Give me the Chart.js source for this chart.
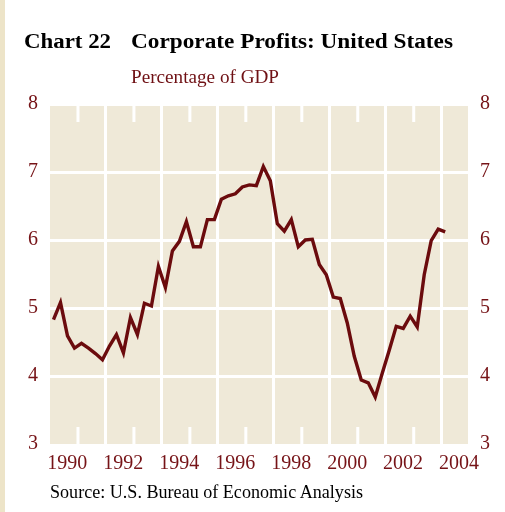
<!DOCTYPE html>
<html><head><meta charset="utf-8">
<script src="https://cdn.jsdelivr.net/npm/chart.js@4.4.1/dist/chart.umd.min.js"></script>
<style>
html,body{margin:0;padding:0;background:#fff;width:505px;height:512px;overflow:hidden;}
#wrap{position:relative;width:505px;height:512px;}
#strip{position:absolute;left:0;top:0;width:5px;height:512px;background:#ede4c8;}
canvas{position:absolute;left:0;top:0;}
.t{position:absolute;white-space:nowrap;line-height:1;font-family:"Liberation Serif",serif;transform-origin:0 0;}
#t1,#t2{font-size:20px;font-weight:bold;color:#000;top:31px;}
#t1{left:24px}
#t2{left:131px}
#sub{font-size:19px;color:#6f1014;left:131px;top:67px;}
#src{font-size:18px;color:#000;left:50px;top:483px;}
</style>
</head><body>
<div id="wrap">
<div id="strip"></div>
<canvas id="c" width="505" height="512"></canvas>
<div class="t" id="t1" data-w="87">Chart 22</div>
<div class="t" id="t2" data-w="322">Corporate Profits: United States</div>
<div class="t" id="sub" data-w="148">Percentage of GDP</div>
<div class="t" id="src" data-w="313">Source: U.S. Bureau of Economic Analysis</div>
</div>
<script>
// Quarterly data, starting 1990 Q1
const startYear = 1990;
const profitShare = [
  4.83, 5.08, 4.59, 4.41, 4.48, 4.41, 4.33, 4.24, 4.44, 4.61,
  4.34, 4.86, 4.61, 5.07, 5.03, 5.61, 5.30, 5.84, 5.98, 6.27,
  5.90, 5.90, 6.30, 6.30, 6.60, 6.65, 6.68, 6.78, 6.81, 6.80,
  7.08, 6.87, 6.24, 6.13, 6.30, 5.90, 6.00, 6.01, 5.64, 5.49,
  5.16, 5.14, 4.78, 4.29, 3.94, 3.90, 3.69, 4.04, 4.38, 4.73,
  4.70, 4.88, 4.72, 5.49, 5.99, 6.16, 6.12
];
const yearLabels = [1990, 1992, 1994, 1996, 1998, 2000, 2002, 2004];
const gridYears = [1991, 1992, 1993, 1994, 1995, 1996, 1997, 1998, 1999, 2000, 2001, 2002, 2003, 2004];
const yTicks = [3, 4, 5, 6, 7, 8];

// fit HTML text widths
document.querySelectorAll('.t[data-w]').forEach(el => {
  const w = el.getBoundingClientRect().width;
  el.style.transform = 'scaleX(' + (parseFloat(el.dataset.w) / w) + ')';
});

const X_MIN = 1990, X_MAX = 2004.94;
const LABEL_SHIFT = 0.62;
const CREAM = '#efe9d8';
const MAROON = '#761317';
const LINE = '#6b0b0d';
const tickFont = {family: 'Liberation Serif', size: 20};

const bgPlugin = {
  id: 'bg',
  beforeDraw(chart) {
    const {ctx, chartArea: a} = chart;
    ctx.save();
    ctx.fillStyle = CREAM;
    ctx.fillRect(a.left, a.top, a.right - a.left, a.bottom - a.top);
    ctx.restore();
  },
  beforeDatasetsDraw(chart) {
    const {ctx, chartArea: a} = chart;
    const xs = chart.scales.x;
    ctx.save();
    ctx.strokeStyle = '#ffffff';
    ctx.lineWidth = 3;
    gridYears.filter(y => y % 2 === 1).forEach(y => {
      const px = xs.getPixelForValue(y);
      ctx.beginPath();
      ctx.moveTo(px, a.top); ctx.lineTo(px, a.top + 18);
      ctx.moveTo(px, a.bottom - 17); ctx.lineTo(px, a.bottom);
      ctx.stroke();
    });
    ctx.restore();
  }
};

new Chart(document.getElementById('c'), {
  type: 'line',
  data: {
    datasets: [{
      data: profitShare.map((v, i) => ({x: startYear + (i + 0.5) / 4, y: v})),
      borderColor: LINE,
      borderWidth: 3.4,
      pointRadius: 0,
      tension: 0,
      fill: false
    }]
  },
  options: {
    responsive: false,
    animation: false,
    devicePixelRatio: 1,
    layout: {padding: {top: 104, left: 0, right: 0, bottom: 0}},
    plugins: {legend: {display: false}, tooltip: {enabled: false}, title: {display: false}},
    scales: {
      x: {
        type: 'linear', position: 'bottom', min: X_MIN, max: X_MAX,
        afterBuildTicks: s => { s.ticks = gridYears.map(v => ({value: v})); },
        grid: {
          color: c => (c.tick && c.tick.value % 2 === 0) ? '#ffffff' : 'rgba(0,0,0,0)',
          lineWidth: 3, drawTicks: false
        },
        border: {display: false},
        ticks: {display: false},
        afterFit: s => { s.height = 0; }
      },
      xl: {
        type: 'linear', position: 'bottom', min: X_MIN, max: X_MAX,
        afterBuildTicks: s => { s.ticks = yearLabels.map(v => ({value: v + LABEL_SHIFT})); },
        grid: {display: false, drawTicks: false},
        border: {display: false},
        ticks: {
          autoSkip: false, maxRotation: 0, color: MAROON, font: tickFont, padding: 8,
          callback: (v, i) => String(yearLabels[i])
        },
        afterFit: s => { s.height = 68; }
      },
      y: {
        type: 'linear', position: 'left', min: 3, max: 8,
        afterBuildTicks: s => { s.ticks = yTicks.map(v => ({value: v})); },
        grid: {
          color: c => (c.tick && c.tick.value === 3) ? 'rgba(0,0,0,0)' : '#ffffff',
          lineWidth: 3, drawTicks: false
        },
        border: {display: false},
        ticks: {color: MAROON, font: tickFont, padding: 12},
        afterFit: s => { s.width = 50; }
      },
      y2: {
        type: 'linear', position: 'right', min: 3, max: 8,
        afterBuildTicks: s => { s.ticks = yTicks.map(v => ({value: v})); },
        grid: {display: false, drawTicks: false},
        border: {display: false},
        ticks: {color: MAROON, font: tickFont, padding: 12},
        afterFit: s => { s.width = 37; }
      }
    }
  },
  plugins: [bgPlugin]
});
</script>
</body></html>
